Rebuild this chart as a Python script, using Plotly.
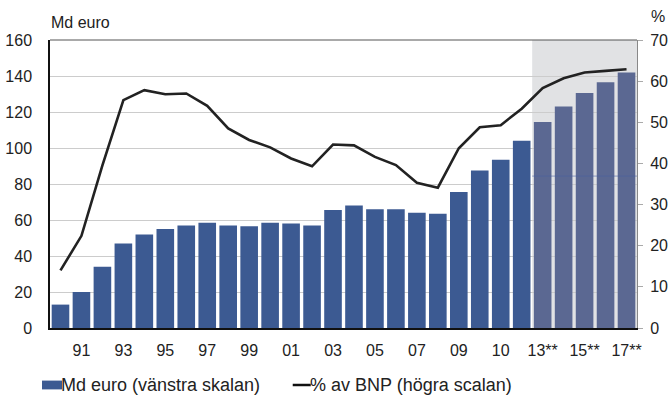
import plotly.graph_objects as go

# Annual values, 1990-2017 (2013-2017 are forecasts)
years = list(range(1990, 2018))
md_euro = [13, 20, 34, 47, 52, 55, 57, 58.5, 57, 56.5,
           58.5, 58, 57, 65.5, 68, 66, 66, 64, 63.5, 75.5,
           87.5, 93.5, 104, 114.5, 123, 130.5, 136.5, 142]
pct_bnp = [14, 22.4, 39.5, 55.4, 57.8, 56.8, 57, 54, 48.5, 45.7,
           43.9, 41.2, 39.3, 44.6, 44.4, 41.6, 39.6, 35.3, 34.1, 43.7,
           48.8, 49.3, 53.3, 58.3, 60.7, 62.1, 62.5, 62.9]
forecast_start = 2013

tick_years = [1991, 1993, 1995, 1997, 1999, 2001, 2003, 2005, 2007, 2009,
              2011, 2013, 2015, 2017]
tick_text = ["91", "93", "95", "97", "99", "01", "03", "05", "07", "09",
             "10", "13**", "15**", "17**"]
left_ticks = [0, 20, 40, 60, 80, 100, 120, 140, 160]
right_ticks = [0, 10, 20, 30, 40, 50, 60, 70]

legend_bar = "Md euro (vänstra skalan)"
legend_line = "% av BNP (högra scalan)"

BAR_BLUE = "#3c5a92"
BAR_FORECAST = "#5b6892"
SHADE = "#e1e2e4"
FONT = "Liberation Sans, Arial, sans-serif"

bar_colors = [BAR_FORECAST if y >= forecast_start else BAR_BLUE for y in years]

fig = go.Figure()
fig.add_trace(go.Bar(
    x=years, y=md_euro, name=legend_bar,
    marker=dict(color=bar_colors, line=dict(width=0)),
    yaxis="y", showlegend=False,
))
fig.add_trace(go.Scatter(
    x=years, y=pct_bnp, name=legend_line, mode="lines",
    line=dict(color="#222222", width=2.6),
    yaxis="y2", showlegend=False,
))

LEG_Y = -0.1979

shapes = [
    # forecast period shading
    dict(type="rect", xref="x", yref="paper", x0=forecast_start - 0.5,
         x1=years[-1] + 0.5, y0=0, y1=1, fillcolor=SHADE,
         line=dict(width=0), layer="below"),
    # seam inside the forecast block
    dict(type="line", xref="x", yref="y", x0=forecast_start - 0.5,
         x1=years[-1] + 0.5, y0=84.4, y1=84.4,
         line=dict(color="rgba(70,95,160,0.55)", width=1), layer="above"),
    # top frame line
    dict(type="line", xref="paper", yref="paper", x0=0, x1=1, y0=1, y1=1,
         line=dict(color="#555555", width=1)),
    # legend swatches
    dict(type="rect", xref="paper", yref="paper",
         x0=-0.0136, x1=0.0204, y0=LEG_Y - 0.0153, y1=LEG_Y + 0.0153,
         fillcolor=BAR_BLUE, line=dict(width=0)),
    dict(type="line", xref="paper", yref="paper",
         x0=0.4135, x1=0.4442, y0=LEG_Y, y1=LEG_Y,
         line=dict(color="#111111", width=2.5)),
]

annotations = [
    dict(text="Md euro", xref="paper", yref="paper", x=-0.0017, y=1.06,
         xanchor="left", yanchor="middle", showarrow=False,
         font=dict(size=16, color="#222222", family=FONT)),
    dict(text="%", xref="paper", yref="paper", x=1.02, y=1.083,
         xanchor="left", yanchor="middle", showarrow=False,
         font=dict(size=16, color="#222222", family=FONT)),
    dict(text=legend_bar, xref="paper", yref="paper", x=0.0165, y=LEG_Y,
         xanchor="left", yanchor="middle", showarrow=False, borderpad=0,
         font=dict(size=18, color="#222222", family=FONT)),
    dict(text=legend_line, xref="paper", yref="paper", x=0.4415, y=LEG_Y,
         xanchor="left", yanchor="middle", showarrow=False, borderpad=0,
         font=dict(size=18, color="#222222", family=FONT)),
]

fig.update_layout(
    template="none",
    width=671, height=396,
    margin=dict(l=50, r=34, t=40, b=68, autoexpand=False),
    paper_bgcolor="white", plot_bgcolor="white",
    font=dict(family=FONT, size=16, color="#222222"),
    bargap=0.16,
    showlegend=False,
    shapes=shapes,
    annotations=annotations,
    xaxis=dict(
        range=[years[0] - 0.5, years[-1] + 0.5], automargin=False,
        tickmode="array", tickvals=tick_years, ticktext=tick_text,
        showgrid=False, zeroline=False,
        showline=True, linecolor="#111111", linewidth=1.5,
        ticks="outside", ticklen=7, tickcolor="rgba(0,0,0,0)",
        tickfont=dict(size=16),
    ),
    yaxis=dict(
        range=[0, 160], tickmode="array", tickvals=left_ticks, automargin=False,
        showgrid=True, gridcolor="#cccccc", gridwidth=1,
        zeroline=False,
        showline=True, linecolor="#111111", linewidth=1.5,
        ticks="outside", ticklen=13, tickcolor="rgba(0,0,0,0)",
        tickfont=dict(size=16),
    ),
    yaxis2=dict(
        range=[0, 70], tickmode="array", tickvals=right_ticks, automargin=False,
        overlaying="y", side="right",
        showgrid=False, zeroline=False,
        showline=True, linecolor="#888888", linewidth=1,
        ticks="outside", ticklen=5, tickcolor="#aaaaaa",
        ticklabelstandoff=4,
        tickfont=dict(size=16),
    ),
)

fig.write_html("out.html")
